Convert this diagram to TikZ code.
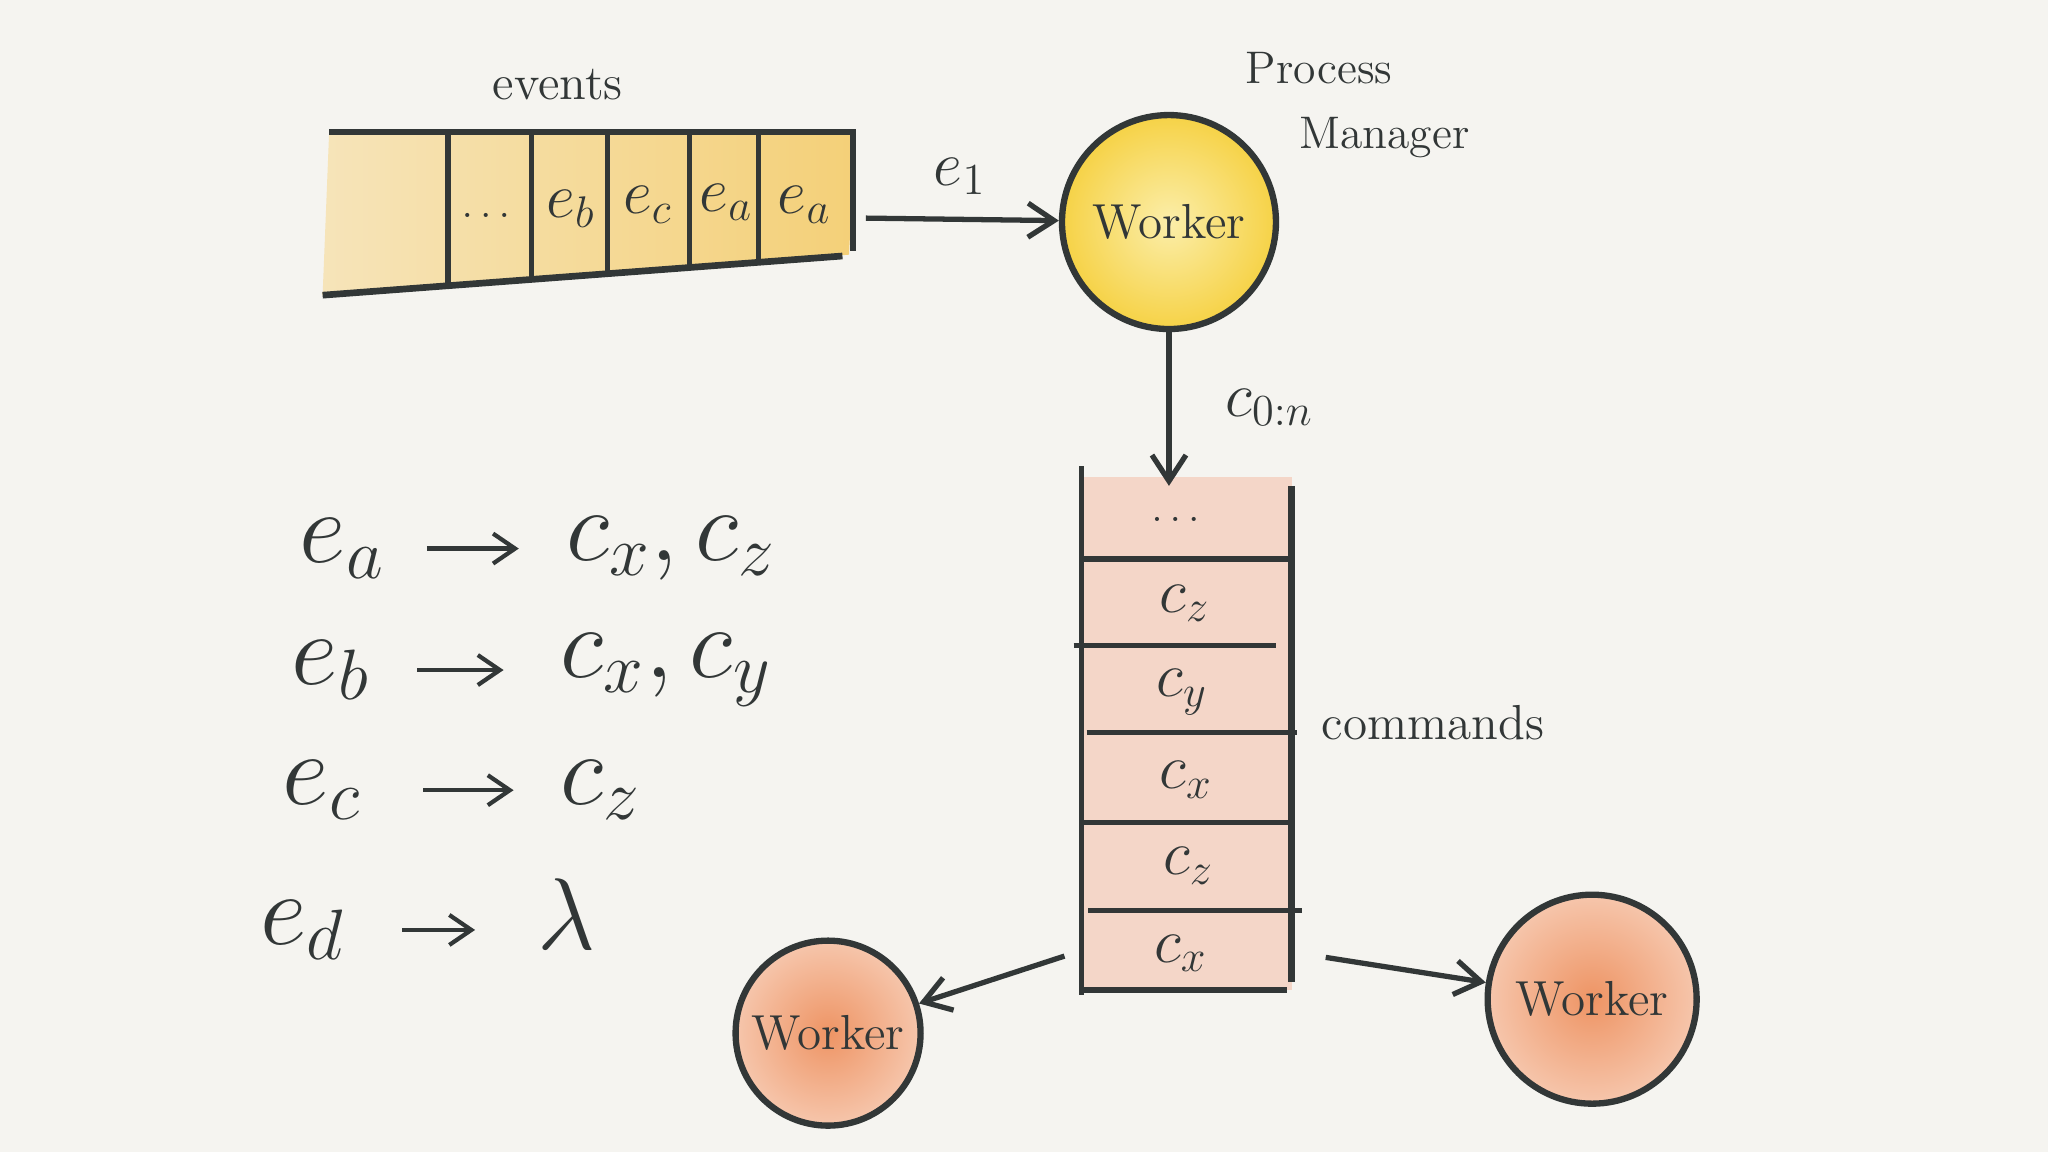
\documentclass[tikz,border=0pt]{standalone}
\usepackage{fix-cm}
\usepackage{tikz}
\usetikzlibrary{arrows.meta,positioning}
\definecolor{ink1}{RGB}{50,55,55}
\definecolor{paper1}{RGB}{245,244,240}
\definecolor{yellow1}{RGB}{246,210,70}
\definecolor{yellow2}{RGB}{251,238,170}
\definecolor{queue1}{RGB}{246,228,185}
\definecolor{queue2}{RGB}{244,208,120}
\definecolor{orange1}{RGB}{238,148,100}
\definecolor{orange2}{RGB}{246,198,172}
\definecolor{salmon1}{RGB}{244,214,200}

\tikzset{
  ink/.style={draw=ink1, line width=1.5pt},
  arr/.style={ink, -{Straight Barb[length=2.6mm,width=3.4mm]}},
  maparr/.style={draw=ink1, line width=1.2pt, -{Straight Barb[length=2.2mm,width=3mm]}},
  worker/.style={circle, draw=ink1, line width=1.8pt, inner sep=0pt, text=ink1,
    font=\fontsize{14}{17}\selectfont},
  cell/.style={text=ink1, font=\fontsize{18}{22}\selectfont},
  hand/.style={text=ink1, font=\fontsize{13}{16}\selectfont},
  maprow/.style={text=ink1, font=\fontsize{29}{34}\selectfont, anchor=west},
}

\begin{document}
\begin{tikzpicture}[x=0.01306cm, y=-0.01306cm]
    % Paper
    \fill[paper1] (0,0) rectangle (1568,882);
    \useasboundingbox (0,0) rectangle (1568,882);

    % Event queue
    \shade[left color=queue1, right color=queue2] (252,101) -- (655,101) -- (650,195) -- (247,226) -- cycle;
    \draw[ink, line width=1.9pt] (252,101) -- (655,101);
    \draw[ink, line width=1.9pt] (247,226) -- (645,196);
    \draw[ink] (653,101) -- (653,192);
    \foreach \x/\y in {343/219, 407/214, 465/210, 528/205, 581/201}{
        \draw[ink] (\x,101) -- (\x,\y);
    }
    \node[cell, font=\fontsize{12}{14}\selectfont] (qdots) at (372,165) {$\ldots$};
    \node[cell] (qb) at (437,160) {$e_b$};
    \node[cell] (qc) at (496,157) {$e_c$};
    \node[cell] (qa1) at (556,155) {$e_a$};
    \node[cell] (qa2) at (616,157) {$e_a$};
    \node[hand, font=\fontsize{14}{16}\selectfont] (events) at (427,65) {events};
    \coordinate (qout) at (663,167);

    % Process manager
    \node[worker, minimum size=2.14cm, inner color=yellow2, outer color=yellow1] (pm) at (895,170) {Worker};
    \node[hand] (proc) at (1010,52) {Process};
    \node[hand] (mgr) at (1060,105) {Manager};
    \draw[arr] (qout) -- (pm);
    \node[cell] (e1) at (735,135) {$e_1$};

    % Command stack
    \fill[salmon1] (828,365) rectangle (989,758);
    \draw[ink] (828,357) -- (828,762);
    \draw[ink, line width=1.9pt] (989,372) -- (989,752);
    \draw[ink] (828,428) -- (989,428);
    \draw[ink] (822,494) -- (977,494);
    \draw[ink] (832,561) -- (993,561);
    \draw[ink] (828,630) -- (989,630);
    \draw[ink] (833,697) -- (997,697);
    \draw[ink] (828,758) -- (985,758);
    \node[cell, font=\fontsize{12}{14}\selectfont] (cmd0) at (900,398) {$\ldots$};
    \node[cell] (cmd1) at (907,462) {$c_z$};
    \node[cell] (cmd2) at (905,530) {$c_y$};
    \node[cell] (cmd3) at (908,597) {$c_x$};
    \node[cell] (cmd4) at (910,663) {$c_z$};
    \node[cell] (cmd5) at (904,730) {$c_x$};
    \node[hand, font=\fontsize{14}{16}\selectfont] (cmds) at (1097,553) {commands};
    \coordinate (stkin) at (895,372);
    \coordinate (stkL) at (815,732);
    \coordinate (stkR) at (1015,733);
    \draw[arr] (pm) -- (stkin);
    \node[cell] (c0n) at (972,312) {$c_{0:n}$};

    % Workers
    \node[worker, minimum size=1.85cm, inner color=orange1, outer color=orange2] (wl) at (634,791) {Worker};
    \node[worker, minimum size=2.09cm, inner color=orange1, outer color=orange2] (wr) at (1219,765) {Worker};
    \draw[arr] (stkL) -- (wl);
    \draw[arr] (stkR) -- (wr);

    % Event to command mapping
    \node[maprow] (ea) at (220,420) {$e_a$};
    \node[maprow] (ca) at (424,420) {$c_x, c_z$};
    \node[maprow] (eb) at (214,513) {$e_b$};
    \node[maprow] (cb) at (420,513) {$c_x, c_y$};
    \node[maprow] (ec) at (207,605) {$e_c$};
    \node[maprow] (cc) at (420,605) {$c_z$};
    \node[maprow] (ed) at (190,712) {$e_d$};
    \node[maprow] (cd) at (402,700) {$\lambda$};
    \draw[maparr, shorten <=0.3cm, shorten >=0.35cm] (ea) -- (ea -| ca.west);
    \draw[maparr, shorten <=0.35cm, shorten >=0.45cm] (eb) -- (eb -| cb.west);
    \draw[maparr, shorten <=0.5cm, shorten >=0.35cm] (ec) -- (ec -| cc.west);
    \draw[maparr, shorten <=0.45cm, shorten >=0.5cm] (ed) -- (ed -| cd.west);
\end{tikzpicture}
\end{document}
